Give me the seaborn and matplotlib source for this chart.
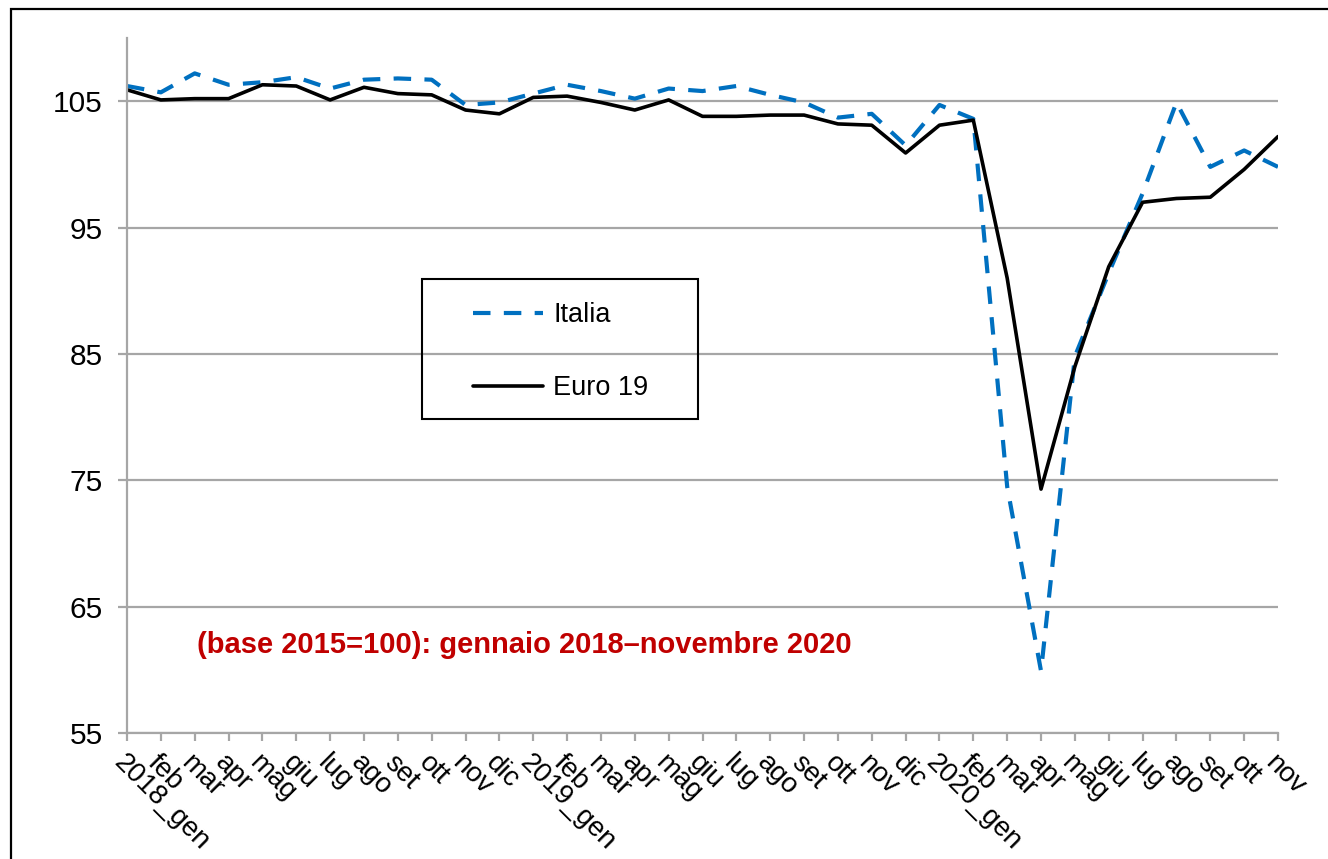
import numpy as np
import pandas as pd
import matplotlib
matplotlib.use("Agg")
import matplotlib.pyplot as plt
from matplotlib.patches import Rectangle
import seaborn as sns

# month labels, gennaio 2018 - novembre 2020
mesi = ['gen', 'feb', 'mar', 'apr', 'mag', 'giu', 'lug', 'ago', 'set', 'ott', 'nov', 'dic']
labels = (['2018_gen'] + mesi[1:] + ['2019_gen'] + mesi[1:] + ['2020_gen'] + mesi[1:11])

italia = [106.2, 105.7, 107.2, 106.3, 106.5, 106.9, 106.0, 106.7, 106.8, 106.7, 104.7, 104.9,
          105.6, 106.3, 105.8, 105.2, 106.0, 105.8, 106.2, 105.5, 104.9, 103.7, 104.0, 101.5,
          104.7, 103.6, 74.5, 59.9, 84.8, 91.4, 97.7, 104.9, 99.8, 101.1, 99.8]
euro19 = [105.9, 105.1, 105.2, 105.2, 106.3, 106.2, 105.1, 106.1, 105.6, 105.5, 104.3, 104.0,
          105.3, 105.4, 104.9, 104.3, 105.1, 103.8, 103.8, 103.9, 103.9, 103.2, 103.1, 100.9,
          103.1, 103.5, 91.0, 74.3, 84.0, 91.9, 97.0, 97.3, 97.4, 99.6, 102.2]

yticks = [55, 65, 75, 85, 95, 105]
note = '(base 2015=100): gennaio 2018\u2013novembre 2020'

pos = np.arange(len(labels))
df = pd.concat([
    pd.DataFrame({'pos': pos, 'valore': italia, 'serie': 'Italia'}),
    pd.DataFrame({'pos': pos, 'valore': euro19, 'serie': 'Euro 19'}),
])

sns.set_theme(style='white')
plt.rcParams['font.family'] = ['Liberation Sans', 'DejaVu Sans']
plt.rcParams['text.color'] = 'black'

W, H = 1328, 859
fig = plt.figure(figsize=(W / 100, H / 100), dpi=100)
ax = fig.add_axes([127 / W, 1 - 733 / H, (1278 - 127) / W, (733 - 38) / H])

sns.lineplot(data=df, x='pos', y='valore', hue='serie', style='serie',
             palette={'Italia': '#0070C0', 'Euro 19': 'black'},
             dashes={'Italia': (4.2, 3.2), 'Euro 19': ''},
             ax=ax, legend=False)
lines = ax.get_lines()
lines[0].set_linewidth(3.0)
lines[1].set_linewidth(2.6)

ax.set_xlim(0, len(labels) - 1)
ax.set_ylim(55, 110)
ax.set_yticks(yticks)
ax.set_xticks(pos)
ax.set_xticklabels(labels, rotation=-45, ha='left', va='top', rotation_mode='anchor')
ax.set_xlabel('')
ax.set_ylabel('')

gray = '#A6A6A6'
for s in ['top', 'right']:
    ax.spines[s].set_visible(False)
for s in ['left', 'bottom']:
    ax.spines[s].set_color(gray)
    ax.spines[s].set_linewidth(1.6)
ax.yaxis.grid(True, color=gray, linewidth=1.6)
ax.xaxis.grid(False)
ax.set_axisbelow(True)
ax.tick_params(axis='x', bottom=True, length=6, width=1.6, color=gray,
               labelsize=20, labelcolor='black', pad=6)
ax.tick_params(axis='y', left=True, length=6.5, width=1.6, color=gray,
               labelsize=21.5, labelcolor='black', pad=11)

ax.text(0.0608, 0.126, note, transform=ax.transAxes, color='#C00000',
        fontweight='bold', fontsize=21, va='center', ha='left')

# legend, framed by hand
handles = [plt.Line2D([], [], color='#0070C0', lw=3.0, dashes=(4.2, 3.2)),
           plt.Line2D([], [], color='black', lw=2.6)]
ax.legend(handles, ['Italia', 'Euro 19'], loc='upper left',
          bbox_to_anchor=(473 / W, 1 - 302 / H), bbox_transform=fig.transFigure,
          frameon=False, fontsize=19.5, borderpad=0, borderaxespad=0,
          handlelength=2.6, handletextpad=0.36, labelspacing=1.75)
fig.patches.append(Rectangle((422 / W, 1 - 419 / H), 276 / W, 140 / H, fill=False,
                             edgecolor='black', linewidth=1.5, transform=fig.transFigure))

# outer frame of the chart area
fig.patches.append(Rectangle((11 / W, -0.1), 1.2, 1.1 - 9 / H, fill=False,
                             edgecolor='black', linewidth=1.6, transform=fig.transFigure))

fig.savefig('out.png', dpi=100)
